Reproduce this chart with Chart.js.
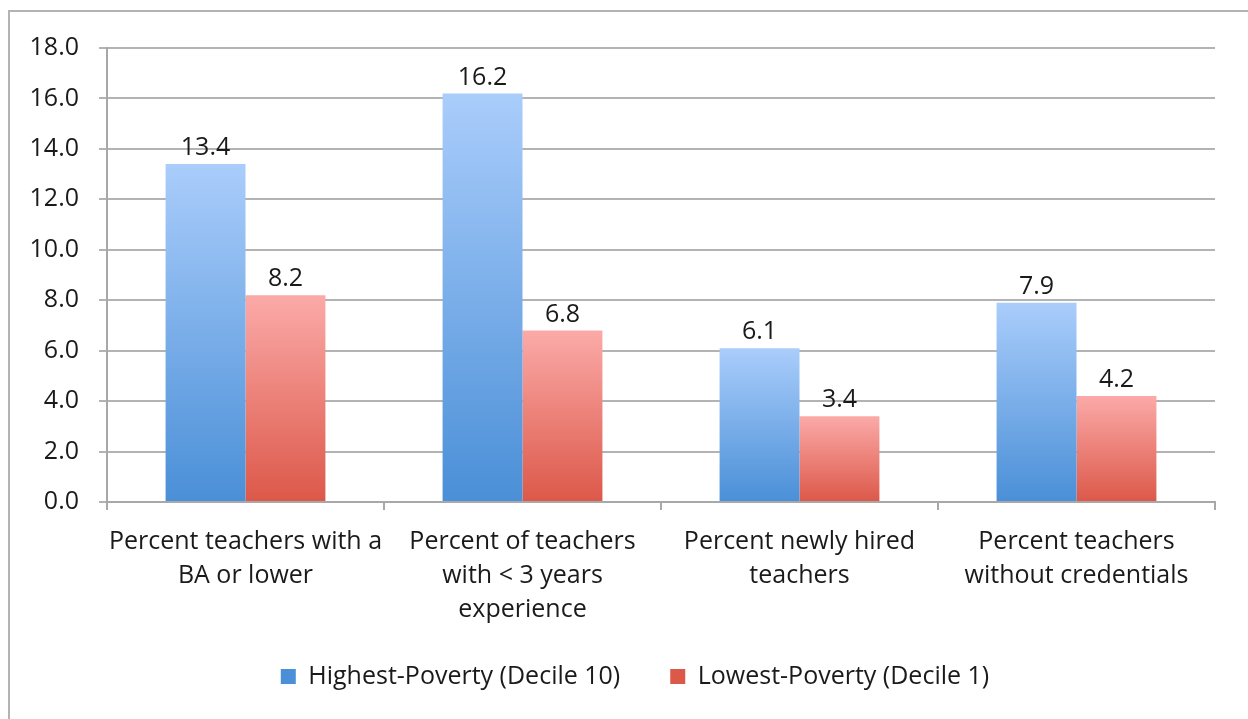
<!DOCTYPE html>
<html>
<head>
<meta charset="utf-8">
<script src="https://cdn.jsdelivr.net/npm/chart.js@4.4.0/dist/chart.umd.min.js"></script>
<style>
  html, body { margin: 0; padding: 0; background: #fff; overflow: hidden; }
  #frame {
    position: absolute; left: 8px; top: 10px; width: 1300px; height: 800px;
    border-top: 2px solid #b3b3b3; border-left: 2px solid #b3b3b3;
  }
  #wrap { position: absolute; left: 0; top: 0; width: 1248px; height: 719px; overflow: hidden; }
</style>
</head>
<body>
<div id="frame"></div>
<div id="wrap"><canvas id="chart" width="1270" height="719"></canvas></div>
<script>
const categories = [
  ["Percent teachers with a", "BA or lower"],
  ["Percent of teachers", "with < 3 years", "experience"],
  ["Percent newly hired", "teachers"],
  ["Percent teachers", "without credentials"],
];
const highestPoverty = [13.4, 16.2, 6.1, 7.9];
const lowestPoverty = [8.2, 6.8, 3.4, 4.2];
const seriesNames = ["Highest-Poverty (Decile 10)", "Lowest-Poverty (Decile 1)"];

const FONT = "'Open Sans', sans-serif";
const TEXT = "#1a1a1a";

// vertical gradient per bar, light at the top, darker at the base
function barGradient(top, bottom, fallback) {
  return (context) => {
    const chart = context.chart;
    if (context.type !== "data" || !chart.chartArea) return fallback;
    const y = chart.scales.y;
    const yTop = y.getPixelForValue(context.raw);
    const yBase = y.getPixelForValue(0);
    const g = chart.ctx.createLinearGradient(0, yTop, 0, yBase);
    g.addColorStop(0, top);
    g.addColorStop(1, bottom);
    return g;
  };
}

const valueLabels = {
  id: "valueLabels",
  afterDatasetsDraw(chart) {
    const ctx = chart.ctx;
    ctx.save();
    ctx.font = "25px " + FONT;
    ctx.fillStyle = TEXT;
    ctx.textAlign = "center";
    ctx.textBaseline = "middle";
    chart.data.datasets.forEach((ds, i) => {
      chart.getDatasetMeta(i).data.forEach((bar, j) => {
        ctx.fillText(ds.data[j].toFixed(1), bar.x, bar.y - 16);
      });
    });
    ctx.restore();
  },
};

// the legend's vertical padding is the same as the gap between its items,
// so pull it up a bit after layout to sit where the original has it
const legendNudge = {
  id: "legendNudge",
  afterLayout(chart) {
    const lg = chart.legend;
    if (!lg) return;
    lg.top -= 14;
    lg.bottom -= 14;
  },
};

new Chart(document.getElementById("chart"), {
  type: "bar",
  data: {
    labels: categories,
    datasets: [
      {
        label: seriesNames[0],
        data: highestPoverty,
        backgroundColor: barGradient("#aacdfb", "#4a8fd7", "#78aeea"),
      },
      {
        label: seriesNames[1],
        data: lowestPoverty,
        backgroundColor: barGradient("#fbaaa8", "#dc5849", "#ec817a"),
      },
    ],
  },
  options: {
    responsive: false,
    animation: false,
    categoryPercentage: 0.577,
    barPercentage: 1.0,
    layout: { padding: { top: 48, right: 0, bottom: 6, left: 0 } },
    plugins: {
      tooltip: { enabled: false },
      legend: {
        position: "bottom",
        labels: {
          font: { family: FONT, size: 25 },
          color: TEXT,
          boxWidth: 15,
          boxHeight: 15,
          padding: 50,
        },
      },
    },
    scales: {
      x: {
        grid: {
          offset: true,
          drawOnChartArea: false,
          color: "#a8a8a8",
          lineWidth: 2,
          tickLength: 8,
        },
        border: { color: "#a8a8a8", width: 2 },
        ticks: {
          font: { family: FONT, size: 25, lineHeight: 1.36 },
          color: TEXT,
          maxRotation: 0,
          padding: 15,
        },
        afterFit(scale) { scale.height = 126; },
      },
      y: {
        min: 0,
        max: 18,
        ticks: {
          stepSize: 2,
          font: { family: FONT, size: 25 },
          color: TEXT,
          padding: 20,
          callback: (v) => v.toFixed(1),
        },
        grid: { color: "#b3b3b3", lineWidth: 2, tickLength: 8 },
        border: { color: "#a8a8a8", width: 2 },
        afterFit(scale) { scale.width = 107; },
      },
      // empty right-hand axis, only reserves space so the legend sits centred like the original
      yRight: {
        position: "right",
        display: true,
        ticks: { display: false },
        grid: { display: false },
        border: { display: false },
        afterFit(scale) { scale.width = 55; },
      },
    },
  },
  plugins: [valueLabels, legendNudge],
});
</script>
</body>
</html>
